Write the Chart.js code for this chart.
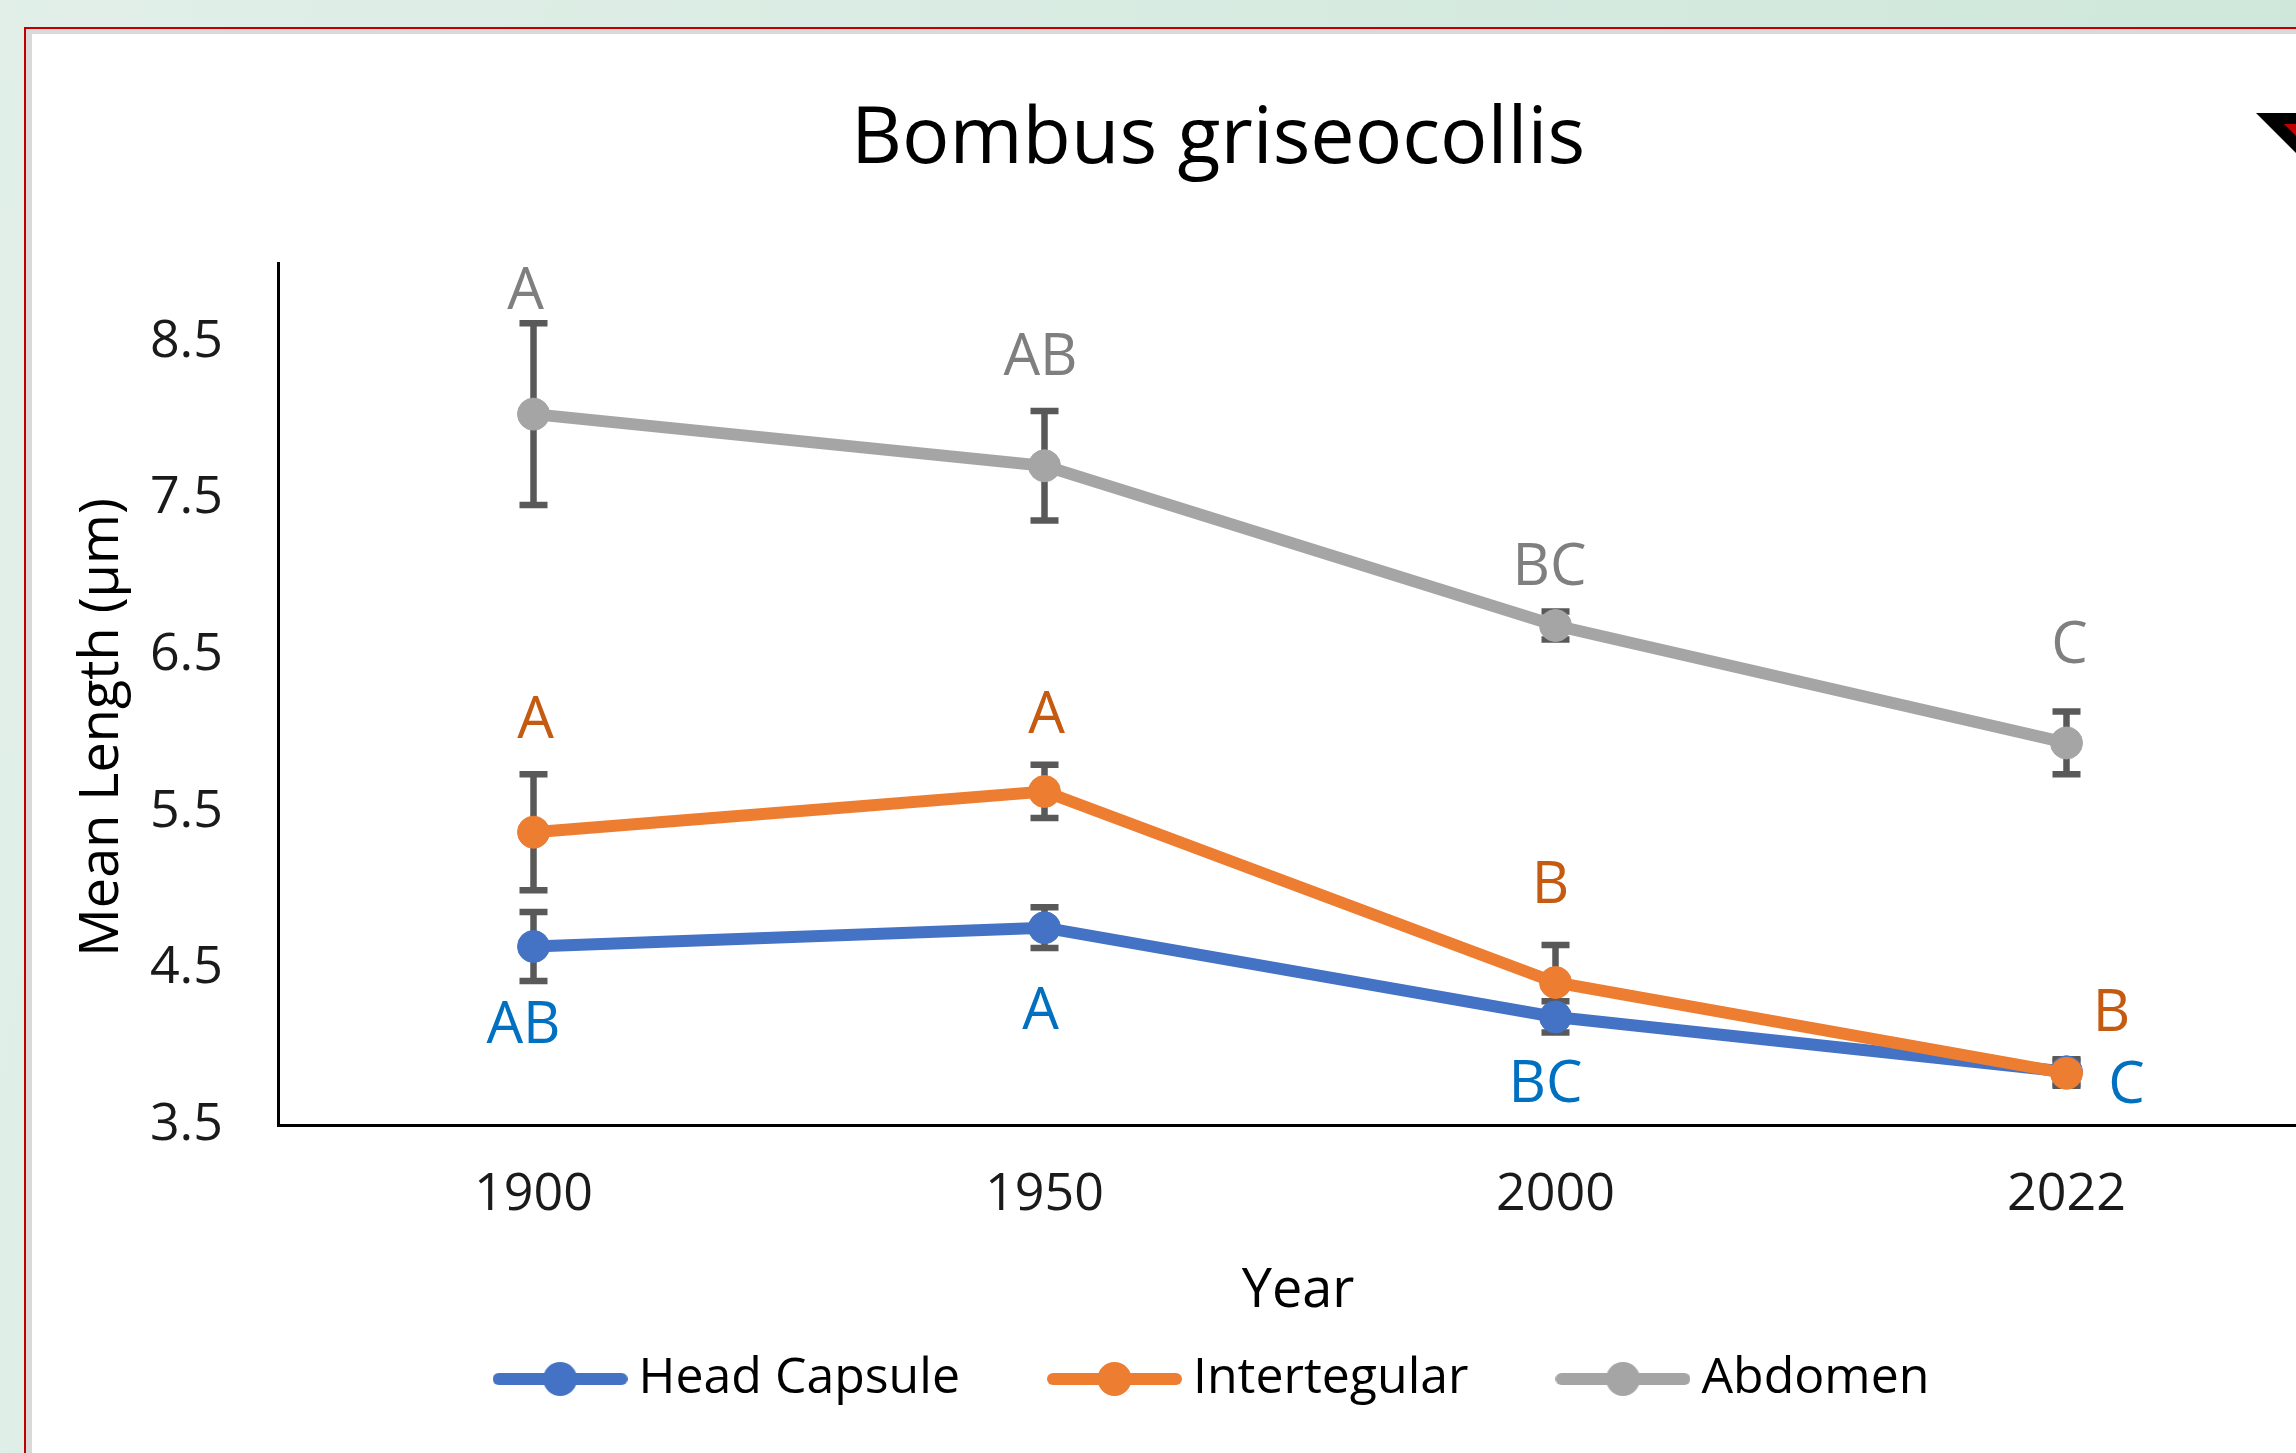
<!DOCTYPE html>
<html>
<head>
<meta charset="utf-8">
<title>Bombus griseocollis</title>
<script src="https://cdn.jsdelivr.net/npm/chart.js@4.4.1/dist/chart.umd.min.js"></script>
<style>
  html, body { margin: 0; padding: 0; width: 2296px; height: 1453px; overflow: hidden; }
  body { position: relative; background: linear-gradient(100deg, #e1efe8 0%, #cde6d9 100%); }
  #frame { position: absolute; left: 24px; top: 27px; width: 2400px; height: 1500px;
           border-top: 2px solid #c00000; border-left: 2px solid #c00000; background: #d9d9d9; }
  #panel { position: absolute; left: 32px; top: 34px; width: 2400px; height: 1500px; background: #fff; }
  #chart { position: absolute; left: 32px; top: 34px; }
  #flag { position: absolute; left: 2256px; top: 113px; width: 40px; height: 40px; background: #000;
          clip-path: polygon(0 0, 100% 0, 100% 100%); }
  #flag2 { position: absolute; left: 2284px; top: 124px; width: 12px; height: 12px; background: #c00000;
           clip-path: polygon(0 0, 100% 0, 100% 100%); }
</style>
</head>
<body>
<div id="frame"></div>
<div id="panel"></div>
<canvas id="chart" width="2307" height="1380"></canvas>
<div id="flag"></div>
<div id="flag2"></div>
<script>
// valores
const years = ['1900', '1950', '2000', '2022'];
const yTicks = [3.5, 4.5, 5.5, 6.5, 7.5, 8.5];

const headCapsule = [4.64, 4.76, 4.19, 3.84];
const headCapsuleErr = [0.22, 0.13, 0.10, 0.08];
const headLetters = ['AB', 'A', 'BC', 'C'];

const intertegular = [5.37, 5.63, 4.41, 3.83];
const intertegularErr = [0.37, 0.17, 0.24, 0.08];
const interLetters = ['A', 'A', 'B', 'B'];

const abdomen = [8.04, 7.71, 6.69, 5.94];
const abdomenErr = [0.58, 0.35, 0.09, 0.20];
const abdomenLetters = ['A', 'AB', 'BC', 'C'];

const FONT = '"Open Sans", "Noto Sans", sans-serif';

// deslocamento das letras em relação ao ponto
const letterOffsets = [
    [[-10, 80], [-4, 85], [-10, 69], [60, 15]],
    [[2, -111], [2, -75], [-5, -96], [45, -59]],
    [[-8, -122], [-4, -107], [-6, -57], [3, -96]]
];
const letterColors = ['#0070c0', '#c55a11', '#7f7f7f'];

function legendIcon(color) {
    const c = document.createElement('canvas');
    c.width = 135;
    c.height = 36;
    const g = c.getContext('2d');
    g.strokeStyle = color;
    g.lineWidth = 12;
    g.lineCap = 'round';
    g.beginPath();
    g.moveTo(6, 18);
    g.lineTo(129, 18);
    g.stroke();
    g.fillStyle = color;
    g.beginPath();
    g.arc(67.5, 18, 17, 0, Math.PI * 2);
    g.fill();
    return c;
}

const errorBars = {
    id: 'errorBars',
    beforeDatasetsDraw(chart) {
        const ctx = chart.ctx;
        const y = chart.scales.y;
        ctx.save();
        ctx.strokeStyle = '#595959';
        ctx.lineWidth = 6.5;
        chart.data.datasets.forEach((ds, i) => {
            chart.getDatasetMeta(i).data.forEach((pt, j) => {
                const top = y.getPixelForValue(ds.data[j] + ds.errors[j]);
                const bottom = y.getPixelForValue(ds.data[j] - ds.errors[j]);
                ctx.beginPath();
                ctx.moveTo(pt.x, top);
                ctx.lineTo(pt.x, bottom);
                ctx.moveTo(pt.x - 14, top);
                ctx.lineTo(pt.x + 14, top);
                ctx.moveTo(pt.x - 14, bottom);
                ctx.lineTo(pt.x + 14, bottom);
                ctx.stroke();
            });
        });
        ctx.restore();
    }
};

const letters = {
    id: 'letters',
    afterDatasetsDraw(chart) {
        const ctx = chart.ctx;
        ctx.save();
        ctx.font = '58px ' + FONT;
        ctx.textAlign = 'center';
        ctx.textBaseline = 'middle';
        chart.data.datasets.forEach((ds, i) => {
            ctx.fillStyle = letterColors[i];
            chart.getDatasetMeta(i).data.forEach((pt, j) => {
                const off = letterOffsets[i][j];
                ctx.fillText(ds.letters[j], pt.x + off[0], pt.y + off[1]);
            });
        });
        ctx.restore();
    }
};

const axisTitles = {
    id: 'axisTitles',
    afterDraw(chart) {
        const ctx = chart.ctx;
        const a = chart.chartArea;
        ctx.save();
        ctx.fillStyle = '#000';
        ctx.font = '54px ' + FONT;
        ctx.textAlign = 'center';
        ctx.textBaseline = 'middle';
        ctx.fillText('Year', (a.left + a.right) / 2 - 2, a.bottom + 167);
        ctx.translate(a.left - 175, (a.top + a.bottom) / 2 + 33);
        ctx.rotate(-Math.PI / 2);
        ctx.fillText('Mean Length (\u00b5m)', 0, 0);
        ctx.restore();
    }
};

const colors = ['#4472c4', '#ed7d31', '#a5a5a5'];

const ctx = document.getElementById('chart').getContext('2d');
const chart = new Chart(ctx, {
    type: 'line',
    data: {
        labels: years,
        datasets: [
            {
                label: 'Head Capsule',
                data: headCapsule,
                errors: headCapsuleErr,
                letters: headLetters,
                borderColor: colors[0],
                backgroundColor: colors[0],
                order: 3
            },
            {
                label: 'Intertegular',
                data: intertegular,
                errors: intertegularErr,
                letters: interLetters,
                borderColor: colors[1],
                backgroundColor: colors[1],
                order: 2
            },
            {
                label: 'Abdomen',
                data: abdomen,
                errors: abdomenErr,
                letters: abdomenLetters,
                borderColor: colors[2],
                backgroundColor: colors[2],
                order: 1
            }
        ]
    },
    options: {
        responsive: false,
        animation: false,
        devicePixelRatio: 1,
        events: [],
        elements: {
            line: { borderWidth: 12, tension: 0 },
            point: { radius: 16, borderWidth: 1 }
        },
        layout: { padding: { left: 65, right: 0, top: 0, bottom: 0 } },
        scales: {
            x: {
                offset: true,
                grid: { display: false, drawTicks: false },
                border: { display: true, color: '#000', width: 3 },
                ticks: { font: { family: FONT, size: 52 }, color: '#1a1a1a', padding: 39 },
                afterFit(scale) {
                    scale.height = 128;
                    scale.paddingLeft = 0;
                    scale.paddingRight = 0;
                }
            },
            y: {
                min: 3.5,
                max: 9,
                grid: { display: false, drawTicks: false },
                border: { display: true, color: '#000', width: 3 },
                ticks: {
                    font: { family: FONT, size: 52 },
                    color: '#1a1a1a',
                    padding: 55,
                    callback: v => v.toFixed(1)
                },
                afterBuildTicks(scale) { scale.ticks = yTicks.map(v => ({ value: v })); },
                afterFit(scale) { scale.width = 181; }
            }
        },
        plugins: {
            tooltip: { enabled: false },
            title: {
                display: true,
                text: 'Bombus griseocollis',
                color: '#000',
                font: { family: FONT, size: 79, weight: 'normal' },
                padding: { top: 59, bottom: 76 }
            },
            legend: {
                position: 'bottom',
                labels: {
                    usePointStyle: true,
                    pointStyleWidth: 107,
                    padding: 101,
                    color: '#000',
                    font: { family: FONT, size: 50 },
                    generateLabels(chart) {
                        return chart.data.datasets.map((ds, i) => ({
                            text: ds.label,
                            fillStyle: colors[i],
                            strokeStyle: colors[i],
                            lineWidth: 0,
                            pointStyle: legendIcon(colors[i]),
                            fontColor: '#000',
                            hidden: false,
                            datasetIndex: i
                        }));
                    }
                }
            }
        }
    },
    plugins: [errorBars, letters, axisTitles]
});
</script>
</body>
</html>
